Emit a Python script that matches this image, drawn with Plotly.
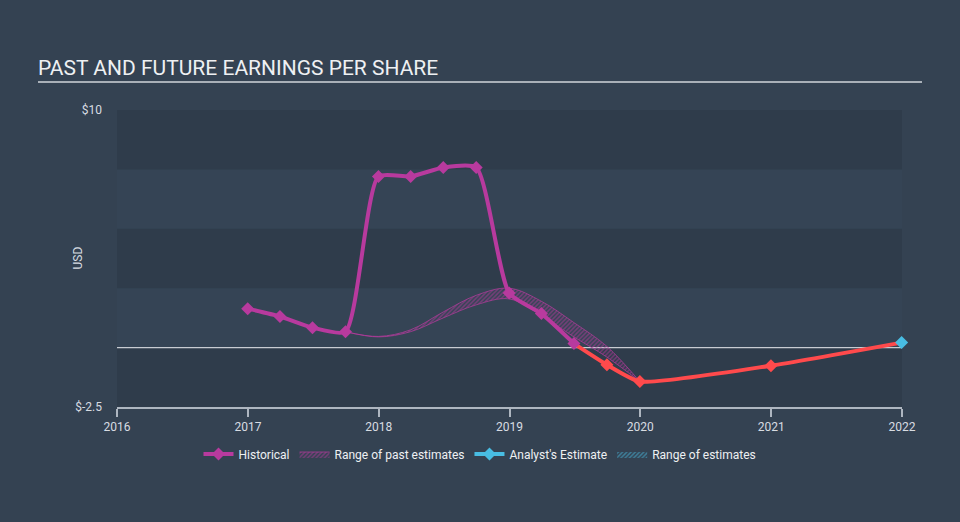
import plotly.graph_objects as go

# ---------------- data ----------------
hist_dates = ["2016-12-31", "2017-03-31", "2017-06-30", "2017-09-30", "2017-12-31",
              "2018-03-31", "2018-06-30", "2018-09-30", "2018-12-31", "2019-03-31",
              "2019-06-30"]
hist_eps = [1.64, 1.31, 0.84, 0.67, 7.2, 7.2, 7.58, 7.58, 2.3, 1.43, 0.17]

fc_dates = ["2019-06-30", "2019-09-30", "2019-12-31", "2020-12-31", "2021-12-31"]
fc_eps = [0.17, -0.72, -1.43, -0.76, 0.21]

est_dates = ["2021-12-31"]
est_eps = [0.21]

range_dates = ["2017-09-30", "2017-12-31", "2018-03-31", "2018-06-30", "2018-09-30",
               "2018-12-31", "2019-03-31", "2019-06-30", "2019-09-30", "2019-12-31"]
range_high = [0.67, 0.47, 0.75, 1.5, 2.2, 2.5, 1.95, 1.05, 0.05, -1.43]
range_low = [0.67, 0.45, 0.67, 1.25, 1.8, 2.05, 1.35, 0.45, -0.4, -1.43]

y_ticks = [-2.5, 10]
y_ticktext = ["$-2.5", "$10"]
x_ticks = ["2016-01-01", "2017-01-01", "2018-01-01", "2019-01-01",
           "2020-01-01", "2021-01-01", "2022-01-01"]
x_ticktext = ["2016", "2017", "2018", "2019", "2020", "2021", "2022"]
bands = [(7.5, 10), (2.5, 5), (-2.5, 0)]

# ---------------- style ----------------
PURPLE = "#b83a9e"
RED = "#ff4a4c"
CYAN = "#48bde3"
BG = "#344252"
BAND_DARK = "#2f3c4b"
BAND_LIGHT = "#354455"
TXT = "#d8dce2"
FONT = "Roboto"

fig = go.Figure()

# past estimate range
fig.add_trace(go.Scatter(
    x=range_dates, y=range_low, mode="lines",
    line=dict(color="rgba(184,58,158,0.7)", width=1, shape="spline", smoothing=1),
    showlegend=False, hoverinfo="skip", legendgroup="pr"))
fig.add_trace(go.Scatter(
    x=range_dates, y=range_high, mode="lines", name="Range of past estimates",
    line=dict(color="rgba(184,58,158,0.7)", width=1, shape="spline", smoothing=1),
    fill="tonexty", fillcolor="rgba(0,0,0,0)",
    fillpattern=dict(shape="/", fgcolor=PURPLE, bgcolor="rgba(0,0,0,0)",
                     size=3, solidity=0.5),
    legendgroup="pr", legendrank=2))

# forecast line (red)
fig.add_trace(go.Scatter(
    x=fc_dates, y=fc_eps, mode="lines",
    line=dict(color=RED, width=4, shape="spline", smoothing=0.5),
    showlegend=False, cliponaxis=False))
fig.add_trace(go.Scatter(
    x=fc_dates[1:4], y=fc_eps[1:4], mode="markers",
    marker=dict(symbol="diamond", size=10, color=RED, opacity=1, line=dict(width=0)),
    showlegend=False, cliponaxis=False))

# historical
fig.add_trace(go.Scatter(
    x=hist_dates, y=hist_eps, mode="lines+markers", name="Historical",
    line=dict(color=PURPLE, width=4, shape="spline", smoothing=0.6),
    marker=dict(symbol="diamond", size=10, color=PURPLE, line=dict(width=0)),
    legendrank=1))

# analyst estimate
fig.add_trace(go.Scatter(
    x=est_dates, y=est_eps, mode="lines+markers", name="Analyst's Estimate",
    line=dict(color=CYAN, width=4),
    marker=dict(symbol="diamond", size=10, color=CYAN, line=dict(width=0)),
    cliponaxis=False, legendrank=3))

# range of estimates (legend only)
fig.add_trace(go.Scatter(
    x=[None], y=[None], mode="lines", name="Range of estimates",
    line=dict(color="rgba(0,0,0,0)", width=0),
    fill="toself", fillcolor="rgba(0,0,0,0)",
    fillpattern=dict(shape="/", fgcolor=CYAN, bgcolor="rgba(0,0,0,0)",
                     size=3, solidity=0.5),
    legendrank=4))

shapes = []
for lo, hi in bands:
    shapes.append(dict(type="rect", xref="paper", yref="y", x0=0, x1=1, y0=lo, y1=hi,
                       fillcolor=BAND_DARK, line=dict(width=0), layer="below"))
shapes.append(dict(type="line", xref="paper", yref="y", x0=0, x1=1, y0=0, y1=0,
                   line=dict(color="#c8ccd2", width=1.2), layer="below"))
# title underline
shapes.append(dict(type="line", xref="paper", yref="paper",
                   x0=(38 - 117) / 785, x1=(922 - 117) / 785,
                   y0=(407 - 82) / 297, y1=(407 - 82) / 297,
                   line=dict(color="#a9b0b8", width=2)))

fig.update_layout(
    width=960, height=522,
    margin=dict(l=117, r=58, t=110, b=115, autoexpand=False),
    paper_bgcolor=BG, plot_bgcolor=BAND_LIGHT,
    font=dict(family=FONT, color=TXT, size=12),
    title=dict(text="PAST AND FUTURE EARNINGS PER SHARE", xref="container", yref="container",
               x=38 / 960, xanchor="left", y=1 - 68 / 522, yanchor="middle",
               font=dict(family=FONT, size=21, color="#eef0f2")),
    shapes=shapes,
    annotations=[dict(text="USD", xref="paper", yref="paper", x=(77 - 117) / 785, y=0.5,
                      showarrow=False, textangle=-90, xanchor="center", yanchor="middle",
                      font=dict(family=FONT, size=12, color=TXT))],
    showlegend=True,
    legend=dict(orientation="h", xref="container", yref="container",
                x=0.5, xanchor="center", y=1 - 454 / 522, yanchor="middle",
                bgcolor="rgba(0,0,0,0)", font=dict(family=FONT, size=12, color="#eef0f2"),
                itemwidth=30, tracegroupgap=0),
    hovermode=False,
)

fig.update_xaxes(
    type="date", range=["2016-01-01", "2022-01-01"],
    tickvals=x_ticks, ticktext=x_ticktext,
    showgrid=False, zeroline=False, automargin=False,
    showline=True, linecolor="#aeb6c0", linewidth=1.5,
    ticks="outside", ticklen=8, tickcolor="#aeb6c0", tickwidth=1.5,
    tickfont=dict(family=FONT, size=12, color=TXT),
)
fig.update_yaxes(
    range=[-2.5, 10], tickvals=y_ticks, ticktext=y_ticktext,
    showgrid=False, zeroline=False, showline=False, ticks="", automargin=False,
    ticklabelstandoff=14,
    tickfont=dict(family=FONT, size=12, color=TXT),
)

fig.write_html("out.html")
